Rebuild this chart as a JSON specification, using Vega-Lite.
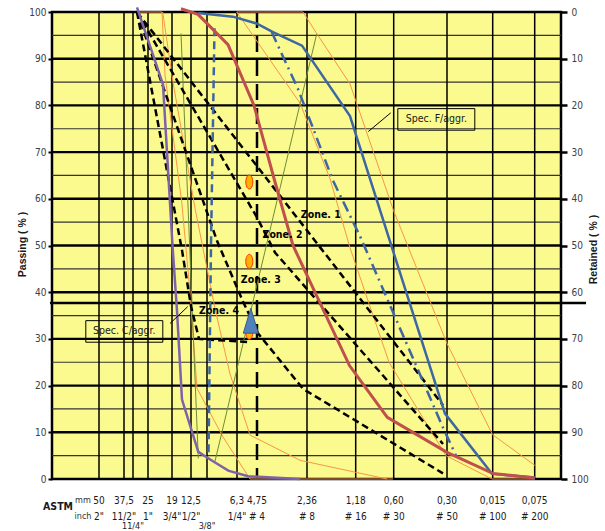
{
  "$schema": "https://vega.github.io/schema/vega-lite/v6.json",
  "width": 509,
  "height": 467,
  "autosize": {"type": "none"},
  "padding": {"left": 52, "top": 12, "right": 44, "bottom": 52},
  "background": "white",
  "view": {"fill": "#fafa8e", "stroke": "black", "strokeWidth": 2.5},
  "config": {"font": "'Liberation Sans Narrow', 'DejaVu Sans Condensed', 'Liberation Sans', sans-serif"},
  "datasets": {
    "hthin": [{"y": 5}, {"y": 15}, {"y": 25}, {"y": 35}, {"y": 45}, {"y": 55}, {"y": 65}, {"y": 75}, {"y": 85}, {"y": 95}],
    "hthick": [{"y": 10}, {"y": 20}, {"y": 30}, {"y": 40}, {"y": 50}, {"y": 60}, {"y": 70}, {"y": 80}, {"y": 90}],
    "ref": [{"y": 37.7}],
    "heads": [{"x": 83, "mm": "mm", "inch": "inch"}],
    "sieves": [
      {"x": 99, "mm": "50", "inch": "2\"", "inch2": ""},
      {"x": 124, "mm": "37,5", "inch": "11/2\"", "inch2": ""},
      {"x": 133, "mm": "", "inch": "", "inch2": "11/4\""},
      {"x": 148, "mm": "25", "inch": "1\"", "inch2": ""},
      {"x": 172, "mm": "19", "inch": "3/4\"", "inch2": ""},
      {"x": 191, "mm": "12,5", "inch": "1/2\"", "inch2": ""},
      {"x": 207, "mm": "", "inch": "", "inch2": "3/8\""},
      {"x": 237, "mm": "6,3", "inch": "1/4\"", "inch2": ""},
      {"x": 257, "mm": "4,75", "inch": "# 4", "inch2": ""},
      {"x": 307, "mm": "2,36", "inch": "# 8", "inch2": ""},
      {"x": 355.7, "mm": "1,18", "inch": "# 16", "inch2": ""},
      {"x": 393.7, "mm": "0,60", "inch": "# 30", "inch2": ""},
      {"x": 447, "mm": "0,30", "inch": "# 50", "inch2": ""},
      {"x": 492.7, "mm": "0,015", "inch": "# 100", "inch2": ""},
      {"x": 534.7, "mm": "0,075", "inch": "# 200", "inch2": ""}
    ],
    "astm": [{"x": 58, "t": "ASTM"}],
    "curves": [
      {"s": "purple", "x": 137, "y": 101}, {"s": "purple", "x": 163, "y": 84.5}, {"s": "purple", "x": 172.5, "y": 50}, {"s": "purple", "x": 177, "y": 36}, {"s": "purple", "x": 182, "y": 17}, {"s": "purple", "x": 198.3, "y": 5.8}, {"s": "purple", "x": 213, "y": 3.8}, {"s": "purple", "x": 228.3, "y": 1.8}, {"s": "purple", "x": 248, "y": 0.6}, {"s": "purple", "x": 300, "y": 0},
      {"s": "red", "x": 181, "y": 100.7}, {"s": "red", "x": 198, "y": 99.5}, {"s": "red", "x": 228, "y": 93}, {"s": "red", "x": 254, "y": 80}, {"s": "red", "x": 275, "y": 63.6}, {"s": "red", "x": 293, "y": 50}, {"s": "red", "x": 349.5, "y": 24.3}, {"s": "red", "x": 387.3, "y": 13.2}, {"s": "red", "x": 447, "y": 5.7}, {"s": "red", "x": 492.7, "y": 1.2}, {"s": "red", "x": 534.7, "y": 0.2},
      {"s": "blue", "x": 198, "y": 99.8}, {"s": "blue", "x": 233, "y": 99}, {"s": "blue", "x": 257, "y": 97.5}, {"s": "blue", "x": 273, "y": 95.7}, {"s": "blue", "x": 302, "y": 92.8}, {"s": "blue", "x": 350, "y": 77.7}, {"s": "blue", "x": 445, "y": 14}, {"s": "blue", "x": 492, "y": 1.1}, {"s": "blue", "x": 535, "y": 0.3},
      {"s": "bdd", "x": 271.7, "y": 95.7}, {"s": "bdd", "x": 298, "y": 83.5}, {"s": "bdd", "x": 312, "y": 75.7}, {"s": "bdd", "x": 333, "y": 63.9}, {"s": "bdd", "x": 360, "y": 52}, {"s": "bdd", "x": 390, "y": 37.2}, {"s": "bdd", "x": 443, "y": 11}, {"s": "bdd", "x": 456.7, "y": 4.7},
      {"s": "bd", "x": 214.5, "y": 96.5}, {"s": "bd", "x": 211, "y": 50}, {"s": "bd", "x": 208.5, "y": 5.5},
      {"s": "zA", "x": 137, "y": 100}, {"s": "zA", "x": 182, "y": 49}, {"s": "zA", "x": 191, "y": 37}, {"s": "zA", "x": 199, "y": 30}, {"s": "zA", "x": 249, "y": 29.3},
      {"s": "zB", "x": 137, "y": 100}, {"s": "zB", "x": 217, "y": 51}, {"s": "zB", "x": 243, "y": 38}, {"s": "zB", "x": 258, "y": 31.2}, {"s": "zB", "x": 303, "y": 19.3}, {"s": "zB", "x": 443, "y": 1.2},
      {"s": "zC", "x": 137, "y": 100}, {"s": "zC", "x": 257, "y": 56}, {"s": "zC", "x": 275, "y": 48.5}, {"s": "zC", "x": 443, "y": 7.5},
      {"s": "zD", "x": 137, "y": 100}, {"s": "zD", "x": 443, "y": 15.8},
      {"s": "oCL", "x": 137, "y": 100}, {"s": "oCL", "x": 162, "y": 100}, {"s": "oCL", "x": 165, "y": 86.5}, {"s": "oCL", "x": 181.7, "y": 59.4}, {"s": "oCL", "x": 190, "y": 40}, {"s": "oCL", "x": 197, "y": 19.4}, {"s": "oCL", "x": 223, "y": 9}, {"s": "oCL", "x": 250, "y": 0}, {"s": "oCL", "x": 393, "y": 0},
      {"s": "oCU", "x": 162.7, "y": 100}, {"s": "oCU", "x": 173, "y": 85}, {"s": "oCU", "x": 195, "y": 58}, {"s": "oCU", "x": 215, "y": 36.5}, {"s": "oCU", "x": 230, "y": 22.5}, {"s": "oCU", "x": 250, "y": 9.4}, {"s": "oCU", "x": 300, "y": 4}, {"s": "oCU", "x": 387, "y": 0},
      {"s": "oF1", "x": 236.7, "y": 100}, {"s": "oF1", "x": 260, "y": 92.8}, {"s": "oF1", "x": 300, "y": 80.5}, {"s": "oF1", "x": 330, "y": 64.3}, {"s": "oF1", "x": 350, "y": 49.5}, {"s": "oF1", "x": 389, "y": 25}, {"s": "oF1", "x": 446, "y": 5}, {"s": "oF1", "x": 492, "y": 0}, {"s": "oF1", "x": 535, "y": 0},
      {"s": "oF2", "x": 236.7, "y": 100}, {"s": "oF2", "x": 303, "y": 100}, {"s": "oF2", "x": 317, "y": 95.3}, {"s": "oF2", "x": 350, "y": 84.6}, {"s": "oF2", "x": 393.5, "y": 57.5}, {"s": "oF2", "x": 447, "y": 29}, {"s": "oF2", "x": 492.5, "y": 9.5}, {"s": "oF2", "x": 535, "y": 2.9},
      {"s": "g1", "x": 181, "y": 95.4}, {"s": "g1", "x": 198.3, "y": 4.4},
      {"s": "g2", "x": 215, "y": 3.8}, {"s": "g2", "x": 316.7, "y": 95.3}
    ],
    "pts": [{"x": 249.3, "y": 63.6}, {"x": 249.3, "y": 46.6}, {"x": 249.3, "y": 31.4}],
    "tri": [{"x": 250.8, "y": 33.9}],
    "zones": [
      {"x": 320.8, "y": 56.5, "t": "Zone. 1"},
      {"x": 282.5, "y": 52.2, "t": "Zone. 2"},
      {"x": 260.8, "y": 42.6, "t": "Zone. 3"},
      {"x": 219, "y": 35.9, "t": "Zone. 4"}
    ],
    "specs": [
      {"x": 436.3, "y": 77.0, "t": "Spec. F/aggr."},
      {"x": 124.3, "y": 31.6, "t": "Spec. C/aggr."}
    ],
    "leaders": [
      {"g": "F", "x": 368.3, "y": 74.4}, {"g": "F", "x": 390.7, "y": 78.4},
      {"g": "C", "x": 170, "y": 33.3}, {"g": "C", "x": 187.7, "y": 36.9}
    ]
  },
  "resolve": {"axis": {"y": "independent"}},
  "layer": [
    {
      "data": {"name": "hthin"},
      "mark": {"type": "rule", "color": "#333333", "strokeWidth": 1.2},
      "encoding": {
        "y": {"field": "y", "type": "quantitative", "scale": {"domain": [0, 100], "nice": false, "zero": false},
          "axis": {"orient": "right", "values": [0, 10, 20, 30, 40, 50, 60, 70, 80, 90, 100], "labelExpr": "format(100 - datum.value, 'd')",
            "grid": false, "domain": false, "ticks": true, "tickSize": 6, "tickWidth": 2.5, "tickColor": "black",
            "labelAlign": "left", "labelPadding": 4, "labelFontSize": 10, "labelColor": "#404040",
            "title": "Retained  ( % )", "titleFont": "'Liberation Sans', sans-serif", "titleFontWeight": "bold", "titleFontSize": 10.5, "titleColor": "#1a1a1a",
            "titleAngle": -90, "titleX": 32, "titleY": 237, "titleAlign": "center", "titleBaseline": "middle"}}
      }
    },
    {
      "data": {"name": "hthick"},
      "mark": {"type": "rule", "color": "black", "strokeWidth": 2.4},
      "encoding": {
        "y": {"field": "y", "type": "quantitative", "scale": {"domain": [0, 100], "nice": false, "zero": false},
          "axis": {"orient": "left", "values": [0, 10, 20, 30, 40, 50, 60, 70, 80, 90, 100],
            "grid": false, "domain": false, "ticks": true, "tickSize": 4, "tickWidth": 2, "tickColor": "black",
            "labelPadding": 2, "labelFontSize": 10, "labelColor": "#404040",
            "title": "Passing ( % )", "titleFont": "'Liberation Sans', sans-serif", "titleFontWeight": "bold", "titleFontSize": 10.5, "titleColor": "#1a1a1a",
            "titleAngle": -90, "titleX": -30, "titleY": 232, "titleAlign": "center", "titleBaseline": "middle"}}
      }
    },
    {
      "data": {"name": "sieves"},
      "transform": [{"filter": "datum.x != 257"}],
      "mark": {"type": "rule", "color": "black", "strokeWidth": 1.5},
      "encoding": {
        "x": {"field": "x", "type": "quantitative", "scale": {"domain": [52, 561], "nice": false, "zero": false},
          "axis": {"orient": "bottom", "values": [99, 124, 133, 148, 172, 191, 207, 237, 307, 355.7, 393.7, 447, 492.7, 534.7],
            "labels": false, "domain": false, "grid": false, "ticks": true, "tickSize": 9, "tickWidth": 2, "tickColor": "black", "title": null}}
      }
    },
    {
      "data": {"name": "sieves"},
      "transform": [{"filter": "datum.x == 257"}],
      "mark": {"type": "rule", "color": "black", "strokeWidth": 2.5, "strokeDash": [16, 8]},
      "encoding": {
        "x": {"field": "x", "type": "quantitative", "scale": {"domain": [52, 561], "nice": false, "zero": false}, "axis": null}
      }
    },
    {
      "data": {"name": "ref"},
      "mark": {"type": "rule", "color": "black", "strokeWidth": 2.5},
      "encoding": {
        "y": {"field": "y", "type": "quantitative", "scale": {"domain": [0, 100], "nice": false, "zero": false}, "axis": null},
        "x": {"datum": 50, "type": "quantitative", "scale": {"domain": [52, 561], "nice": false, "zero": false}, "axis": null},
        "x2": {"datum": 586}
      }
    },
    {
      "data": {"name": "curves"},
      "transform": [{"filter": "indexof(['oCL','oCU','oF1','oF2'], datum.s) >= 0"}],
      "mark": {"type": "line", "color": "#f79646", "strokeWidth": 1},
      "encoding": {
        "x": {"field": "x", "type": "quantitative", "scale": {"domain": [52, 561], "nice": false, "zero": false}, "axis": null},
        "y": {"field": "y", "type": "quantitative", "scale": {"domain": [0, 100], "nice": false, "zero": false}, "axis": null},
        "detail": {"field": "s"},
        "order": {"value": null}
      }
    },
    {
      "data": {"name": "curves"},
      "transform": [{"filter": "datum.s == 'g1' || datum.s == 'g2'"}],
      "mark": {"type": "line", "color": "#6f8c34", "strokeWidth": 1},
      "encoding": {
        "x": {"field": "x", "type": "quantitative", "scale": {"domain": [52, 561], "nice": false, "zero": false}, "axis": null},
        "y": {"field": "y", "type": "quantitative", "scale": {"domain": [0, 100], "nice": false, "zero": false}, "axis": null},
        "detail": {"field": "s"},
        "order": {"value": null}
      }
    },
    {
      "data": {"name": "curves"},
      "transform": [{"filter": "indexof(['zA','zB','zC','zD'], datum.s) >= 0"}],
      "mark": {"type": "line", "color": "black", "strokeWidth": 2.5, "strokeDash": [7, 4]},
      "encoding": {
        "x": {"field": "x", "type": "quantitative", "scale": {"domain": [52, 561], "nice": false, "zero": false}, "axis": null},
        "y": {"field": "y", "type": "quantitative", "scale": {"domain": [0, 100], "nice": false, "zero": false}, "axis": null},
        "detail": {"field": "s"},
        "order": {"value": null}
      }
    },
    {
      "data": {"name": "curves"},
      "transform": [{"filter": "datum.s == 'bd'"}],
      "mark": {"type": "line", "color": "#3e66a3", "strokeWidth": 2.5, "strokeDash": [8, 5]},
      "encoding": {
        "x": {"field": "x", "type": "quantitative", "scale": {"domain": [52, 561], "nice": false, "zero": false}, "axis": null},
        "y": {"field": "y", "type": "quantitative", "scale": {"domain": [0, 100], "nice": false, "zero": false}, "axis": null},
        "order": {"value": null}
      }
    },
    {
      "data": {"name": "curves"},
      "transform": [{"filter": "datum.s == 'bdd'"}],
      "mark": {"type": "line", "color": "#3e66a3", "strokeWidth": 2.5, "strokeDash": [11, 5, 2, 5]},
      "encoding": {
        "x": {"field": "x", "type": "quantitative", "scale": {"domain": [52, 561], "nice": false, "zero": false}, "axis": null},
        "y": {"field": "y", "type": "quantitative", "scale": {"domain": [0, 100], "nice": false, "zero": false}, "axis": null},
        "order": {"value": null}
      }
    },
    {
      "data": {"name": "curves"},
      "transform": [{"filter": "datum.s == 'blue'"}],
      "mark": {"type": "line", "color": "#3e66a3", "strokeWidth": 2.5},
      "encoding": {
        "x": {"field": "x", "type": "quantitative", "scale": {"domain": [52, 561], "nice": false, "zero": false}, "axis": null},
        "y": {"field": "y", "type": "quantitative", "scale": {"domain": [0, 100], "nice": false, "zero": false}, "axis": null},
        "order": {"value": null}
      }
    },
    {
      "data": {"name": "curves"},
      "transform": [{"filter": "datum.s == 'red'"}],
      "mark": {"type": "line", "color": "#c0504d", "strokeWidth": 3},
      "encoding": {
        "x": {"field": "x", "type": "quantitative", "scale": {"domain": [52, 561], "nice": false, "zero": false}, "axis": null},
        "y": {"field": "y", "type": "quantitative", "scale": {"domain": [0, 100], "nice": false, "zero": false}, "axis": null},
        "order": {"value": null}
      }
    },
    {
      "data": {"name": "curves"},
      "transform": [{"filter": "datum.s == 'purple'"}],
      "mark": {"type": "line", "color": "#7f63a8", "strokeWidth": 2.5},
      "encoding": {
        "x": {"field": "x", "type": "quantitative", "scale": {"domain": [52, 561], "nice": false, "zero": false}, "axis": null},
        "y": {"field": "y", "type": "quantitative", "scale": {"domain": [0, 100], "nice": false, "zero": false}, "axis": null},
        "order": {"value": null}
      }
    },
    {
      "data": {"name": "leaders"},
      "mark": {"type": "line", "color": "black", "strokeWidth": 1},
      "encoding": {
        "x": {"field": "x", "type": "quantitative", "scale": {"domain": [52, 561], "nice": false, "zero": false}, "axis": null},
        "y": {"field": "y", "type": "quantitative", "scale": {"domain": [0, 100], "nice": false, "zero": false}, "axis": null},
        "detail": {"field": "g"}
      }
    },
    {
      "data": {"name": "pts"},
      "mark": {"type": "point", "shape": "M0,-1C0.28,-1 0.5,-0.55 0.5,0C0.5,0.55 0.28,1 0,1C-0.28,1 -0.5,0.55 -0.5,0C-0.5,-0.55 -0.28,-1 0,-1Z", "size": 196, "filled": true, "fill": "#ffb300", "stroke": "#ff2a00", "strokeWidth": 1, "opacity": 1},
      "encoding": {
        "x": {"field": "x", "type": "quantitative", "scale": {"domain": [52, 561], "nice": false, "zero": false}, "axis": null},
        "y": {"field": "y", "type": "quantitative", "scale": {"domain": [0, 100], "nice": false, "zero": false}, "axis": null}
      }
    },
    {
      "data": {"name": "tri"},
      "mark": {"type": "point", "shape": "M0,-1L0.6,1L-0.6,1Z", "size": 625, "filled": true, "fill": "#4f81bd", "stroke": "#385d8a", "strokeWidth": 1, "opacity": 1},
      "encoding": {
        "x": {"field": "x", "type": "quantitative", "scale": {"domain": [52, 561], "nice": false, "zero": false}, "axis": null},
        "y": {"field": "y", "type": "quantitative", "scale": {"domain": [0, 100], "nice": false, "zero": false}, "axis": null}
      }
    },
    {
      "data": {"name": "specs"},
      "mark": {"type": "point", "shape": "M-1,-0.28L1,-0.28L1,0.28L-1,0.28Z", "size": 5930, "filled": false, "stroke": "black", "strokeWidth": 1, "opacity": 1},
      "encoding": {
        "x": {"field": "x", "type": "quantitative", "scale": {"domain": [52, 561], "nice": false, "zero": false}, "axis": null},
        "y": {"field": "y", "type": "quantitative", "scale": {"domain": [0, 100], "nice": false, "zero": false}, "axis": null}
      }
    },
    {
      "data": {"name": "specs"},
      "mark": {"type": "text", "fontSize": 10.5, "color": "#1a1a1a", "baseline": "middle", "align": "center"},
      "encoding": {
        "x": {"field": "x", "type": "quantitative", "scale": {"domain": [52, 561], "nice": false, "zero": false}, "axis": null},
        "y": {"field": "y", "type": "quantitative", "scale": {"domain": [0, 100], "nice": false, "zero": false}, "axis": null},
        "text": {"field": "t"}
      }
    },
    {
      "data": {"name": "zones"},
      "mark": {"type": "text", "fontSize": 10.5, "fontWeight": "bold", "color": "black", "baseline": "middle", "align": "center"},
      "encoding": {
        "x": {"field": "x", "type": "quantitative", "scale": {"domain": [52, 561], "nice": false, "zero": false}, "axis": null},
        "y": {"field": "y", "type": "quantitative", "scale": {"domain": [0, 100], "nice": false, "zero": false}, "axis": null},
        "text": {"field": "t"}
      }
    },
    {
      "data": {"name": "sieves"},
      "mark": {"type": "text", "fontSize": 10, "color": "#1a1a1a", "baseline": "middle", "align": "center", "dy": 21.7},
      "encoding": {
        "x": {"field": "x", "type": "quantitative", "scale": {"domain": [52, 561], "nice": false, "zero": false}, "axis": null},
        "y": {"datum": 0, "type": "quantitative", "scale": {"domain": [0, 100], "nice": false, "zero": false}, "axis": null},
        "text": {"field": "mm"}
      }
    },
    {
      "data": {"name": "sieves"},
      "mark": {"type": "text", "fontSize": 10, "color": "#1a1a1a", "baseline": "middle", "align": "center", "dy": 37.7},
      "encoding": {
        "x": {"field": "x", "type": "quantitative", "scale": {"domain": [52, 561], "nice": false, "zero": false}, "axis": null},
        "y": {"datum": 0, "type": "quantitative", "scale": {"domain": [0, 100], "nice": false, "zero": false}, "axis": null},
        "text": {"field": "inch"}
      }
    },
    {
      "data": {"name": "sieves"},
      "mark": {"type": "text", "fontSize": 9, "color": "#1a1a1a", "baseline": "middle", "align": "center", "dy": 46.5},
      "encoding": {
        "x": {"field": "x", "type": "quantitative", "scale": {"domain": [52, 561], "nice": false, "zero": false}, "axis": null},
        "y": {"datum": 0, "type": "quantitative", "scale": {"domain": [0, 100], "nice": false, "zero": false}, "axis": null},
        "text": {"field": "inch2"}
      }
    },
    {
      "data": {"name": "heads"},
      "mark": {"type": "text", "fontSize": 9, "color": "#333333", "baseline": "middle", "align": "center", "dy": 21.2},
      "encoding": {
        "x": {"field": "x", "type": "quantitative", "scale": {"domain": [52, 561], "nice": false, "zero": false}, "axis": null},
        "y": {"datum": 0, "type": "quantitative", "scale": {"domain": [0, 100], "nice": false, "zero": false}, "axis": null},
        "text": {"field": "mm"}
      }
    },
    {
      "data": {"name": "heads"},
      "mark": {"type": "text", "fontSize": 9, "color": "#333333", "baseline": "middle", "align": "center", "dy": 37.2},
      "encoding": {
        "x": {"field": "x", "type": "quantitative", "scale": {"domain": [52, 561], "nice": false, "zero": false}, "axis": null},
        "y": {"datum": 0, "type": "quantitative", "scale": {"domain": [0, 100], "nice": false, "zero": false}, "axis": null},
        "text": {"field": "inch"}
      }
    },
    {
      "data": {"name": "astm"},
      "mark": {"type": "text", "fontSize": 10.5, "fontWeight": "bold", "color": "#1a1a1a", "baseline": "middle", "align": "center", "dy": 27.7},
      "encoding": {
        "x": {"field": "x", "type": "quantitative", "scale": {"domain": [52, 561], "nice": false, "zero": false}, "axis": null},
        "y": {"datum": 0, "type": "quantitative", "scale": {"domain": [0, 100], "nice": false, "zero": false}, "axis": null},
        "text": {"field": "t"}
      }
    }
  ]
}
